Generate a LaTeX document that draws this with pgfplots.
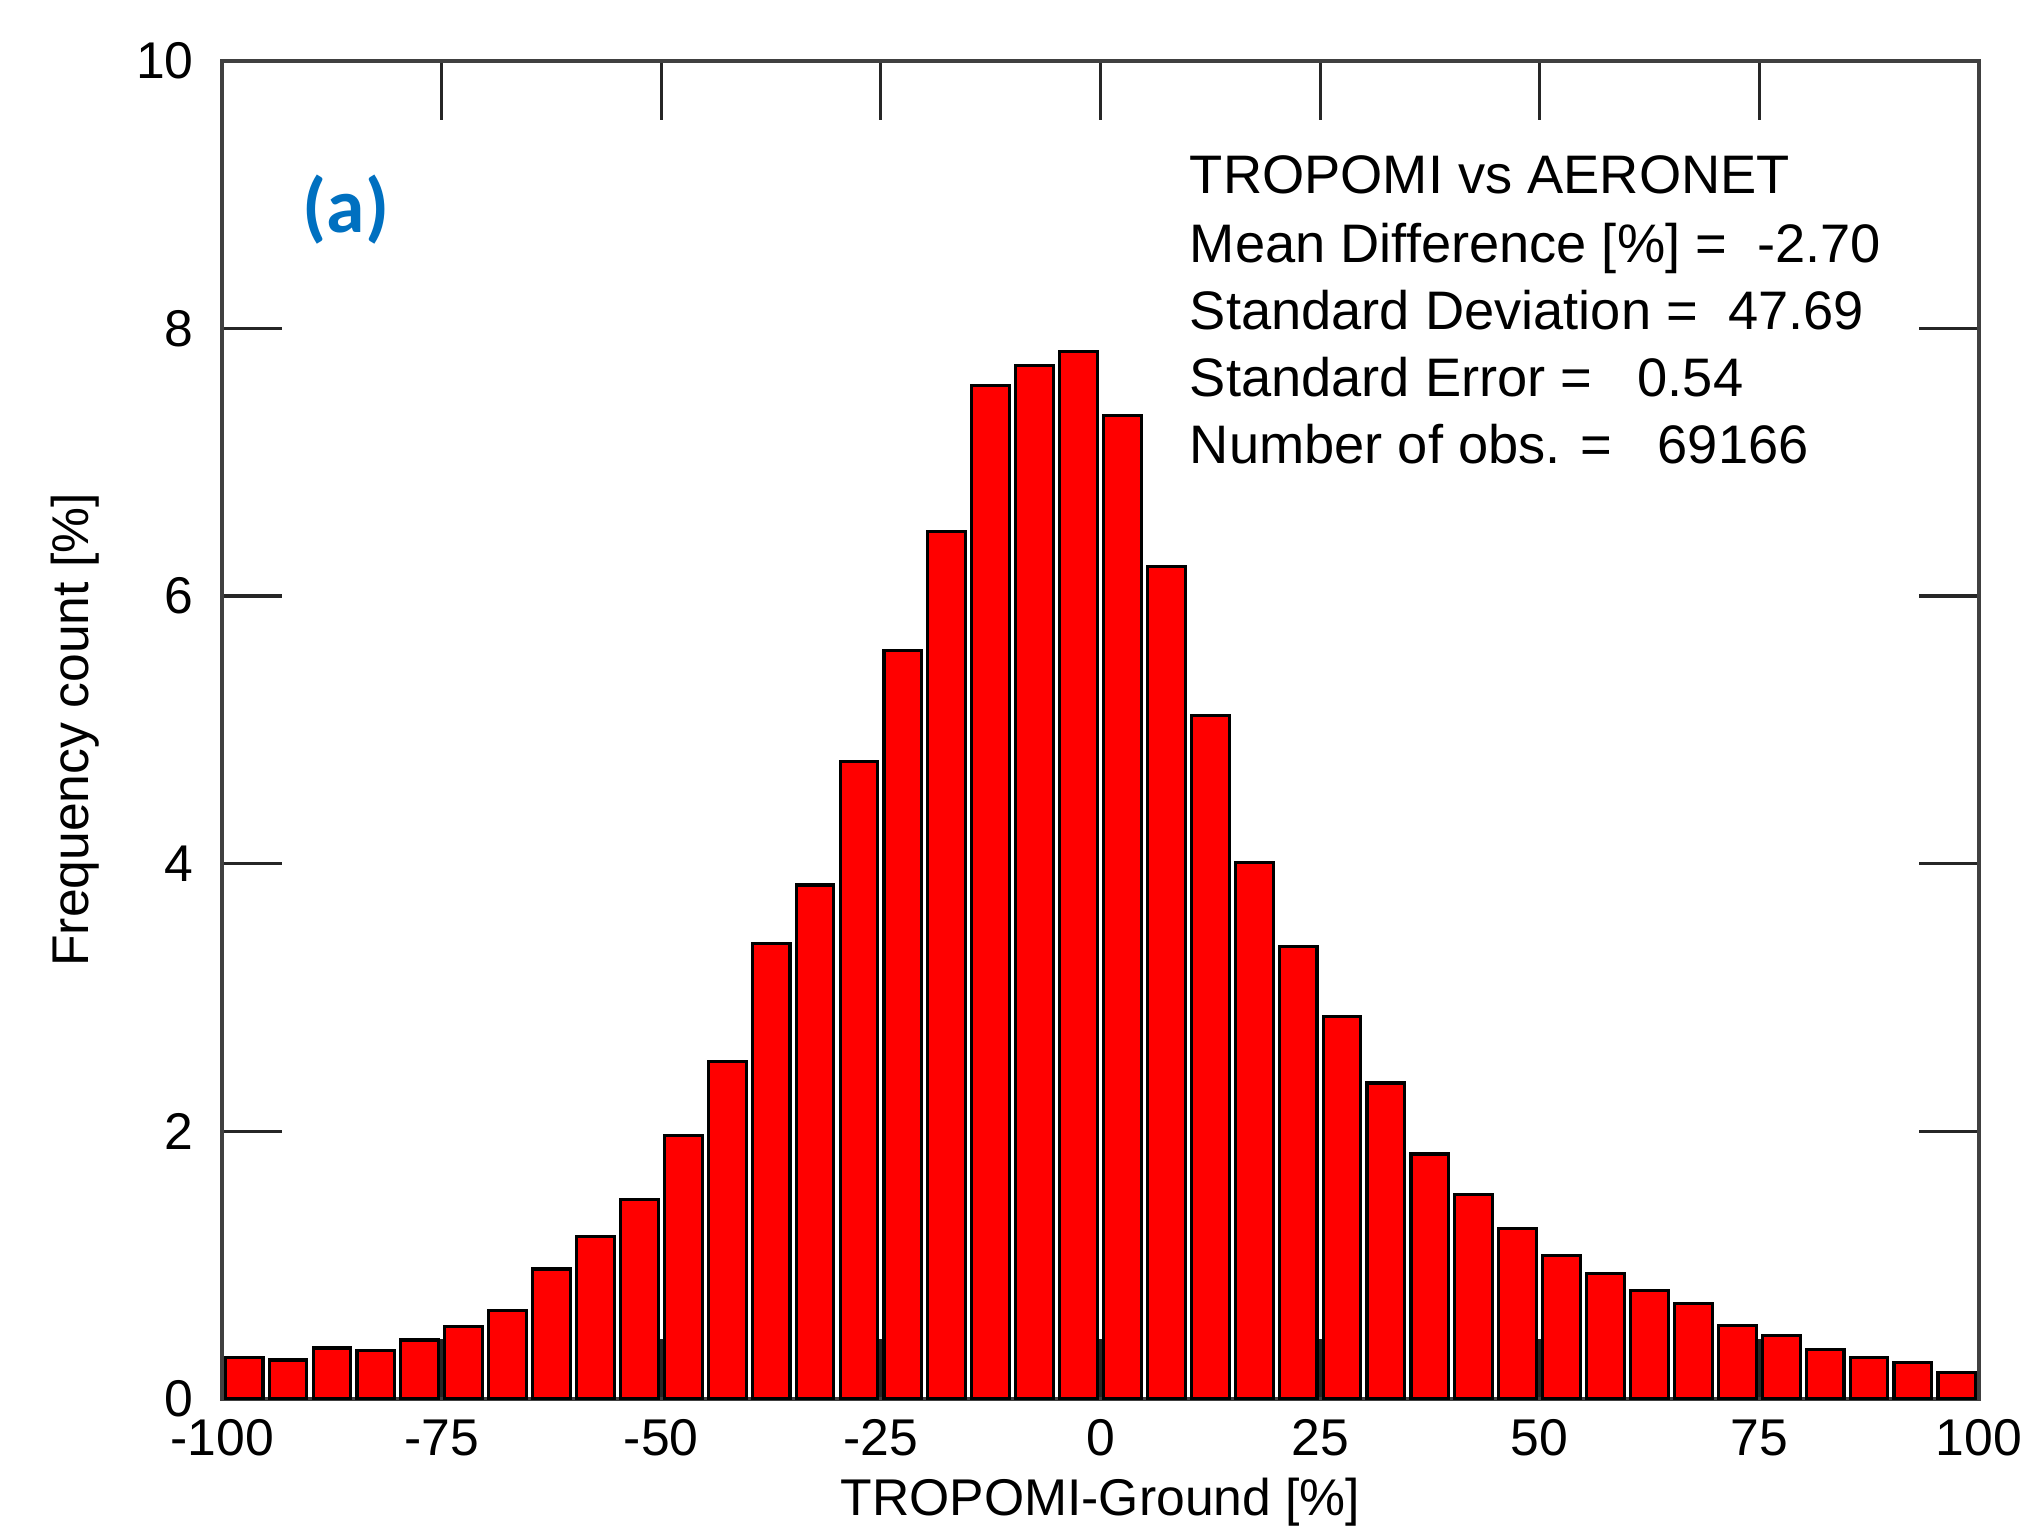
\documentclass[border=0pt]{standalone}
\usepackage{pgfplots}
\pgfplotsset{compat=1.18}
\usepackage{fontspec}
\setmainfont{Liberation Sans}
\newfontfamily\calibri{Carlito}
\definecolor{barred}{RGB}{255,0,0}
\definecolor{labelblue}{RGB}{0,112,192}
\begin{document}
\begin{tikzpicture}
\begin{axis}[
  scale only axis, width=340pt, height=259pt,
  xmin=-100, xmax=100, ymin=0, ymax=10,
  ybar, bar width=4.3,
  xtick={-100,-75,-50,-25,0,25,50,75,100},
  xticklabels={-100,-75,-50,-25,0,25,50,75,100},
  ytick={0,2,4,6,8,10},
  yticklabels={0,2,4,6,8,10},
  xtick align=inside, ytick align=inside, major tick length=11.5pt,
  xtick pos=both, ytick pos=both,
  tick style={black!85, line width=0.6pt},
  axis line style={black!75, line width=0.8pt},
  ticklabel style={font=\fontsize{10}{12}\selectfont},
  yticklabel style={xshift=-2pt},
  xticklabel style={yshift=-0.5pt},
  xlabel={TROPOMI-Ground [\%]},
  ylabel={Frequency count [\%]},
  label style={font=\fontsize{10.5}{12}\selectfont},
  every axis x label/.style={at={(axis description cs:0.5,-0.0869)}, anchor=base},
  every axis y label/.style={at={(axis description cs:-0.0838,0.5)}, anchor=center, rotate=90},
  clip=false,
]
\addplot[fill=barred, draw=black, line width=0.6pt] coordinates {
(-97.5,0.31) (-92.5,0.29) (-87.5,0.38) (-82.5,0.36) (-77.5,0.44)
(-72.5,0.54) (-67.5,0.66) (-62.5,0.97) (-57.5,1.21) (-52.5,1.49)
(-47.5,1.97) (-42.5,2.52) (-37.5,3.40) (-32.5,3.84) (-27.5,4.76)
(-22.5,5.59) (-17.5,6.48) (-12.5,7.57) (-7.5,7.72) (-2.5,7.83)
(2.5,7.35) (7.5,6.22) (12.5,5.11) (17.5,4.01) (22.5,3.38)
(27.5,2.86) (32.5,2.36) (37.5,1.83) (42.5,1.53) (47.5,1.27)
(52.5,1.07) (57.5,0.94) (62.5,0.81) (67.5,0.71) (72.5,0.55)
(77.5,0.47) (82.5,0.37) (87.5,0.31) (92.5,0.27) (97.5,0.20)
};
\node[anchor=base west, inner sep=0, font=\fontsize{10.5}{12}\selectfont] at (axis cs:10.07,9.006) {TROPOMI vs AERONET};
\node[anchor=base west, inner sep=0, font=\fontsize{10.5}{12}\selectfont] at (axis cs:10.07,8.494) {Mean Difference [\%] =\ \ -2.70};
\node[anchor=base west, inner sep=0, font=\fontsize{10.5}{12}\selectfont] at (axis cs:10.07,7.992) {Standard Deviation =\ \ 47.69};
\node[anchor=base west, inner sep=0, font=\fontsize{10.5}{12}\selectfont] at (axis cs:10.07,7.490) {Standard Error =\ \ \ 0.54};
\node[anchor=base west, inner sep=0, font=\fontsize{10.5}{12}\selectfont] at (axis cs:10.07,6.988) {Number of obs. =\ \ \ 69166};
\node[anchor=center, inner sep=0, text=labelblue, font=\calibri\bfseries\fontsize{15}{18}\selectfont] at (axis cs:-85.9,8.89) {(a)};
\end{axis}
\pgfresetboundingbox
\path ([xshift=-43pt,yshift=-26.5pt]current axis.south west) rectangle ([xshift=8.75pt,yshift=11.75pt]current axis.north east);
\end{tikzpicture}
\end{document}
